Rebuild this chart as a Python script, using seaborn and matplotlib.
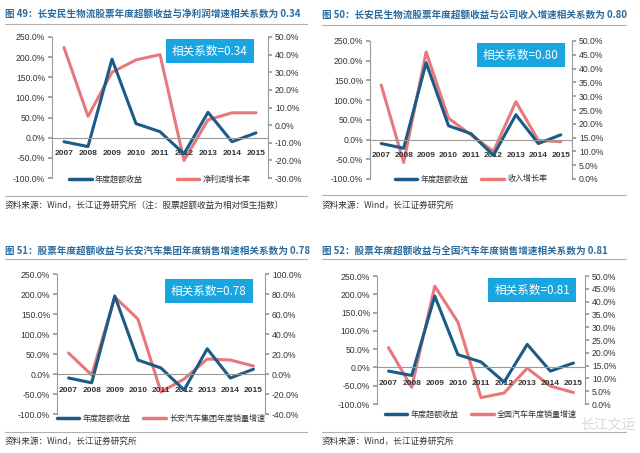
import numpy as np
import pandas as pd
import matplotlib
matplotlib.use("Agg")
import matplotlib.pyplot as plt
from matplotlib.lines import Line2D
import matplotlib.ticker as mticker
import seaborn as sns

sns.set_theme(style="white")
plt.rcParams['font.family'] = ['Liberation Sans', 'Noto Sans CJK SC', 'DejaVu Sans']
plt.rcParams['axes.unicode_minus'] = False

years = ["2007", "2008", "2009", "2010", "2011", "2012", "2013", "2014", "2015"]
excess_return = [-10, -22, 195, 35, 15, -40, 63, -10, 12]
profit_growth = [44, 5, 30, 37, 40, -20, 3, 7, 7]
revenue_growth = [34, 6, 46, 22, 16, 10, 28, 14, 13.5]
changan_sales_growth = [21, -1, 77, 55, -18, -5, 15, 14, 8]
national_sales_growth = [22, 6.5, 46, 32, 2.5, 4.3, 14, 7, 4.5]

titles = [
    "图 49：长安民生物流股票年度超额收益与净利润增速相关系数为 0.34",
    "图 50：长安民生物流股票年度超额收益与公司收入增速相关系数为 0.80",
    "图 51：股票年度超额收益与长安汽车集团年度销售增速相关系数为 0.78",
    "图 52：股票年度超额收益与全国汽车年度销售增速相关系数为 0.81",
]
corr_labels = ["相关系数=0.34", "相关系数=0.80", "相关系数=0.78", "相关系数=0.81"]
left_name = "年度超额收益"
right_names = ["净利润增长率", "收入增长率", "长安汽车集团年度销量增速", "全国汽车年度销量增速"]
right_series = [profit_growth, revenue_growth, changan_sales_growth, national_sales_growth]
right_limits = [(-30, 50, 10), (0, 50, 5), (-40, 100, 20), (0, 50, 5)]
sources = [
    "资料来源：Wind，长江证券研究所（注：股票超额收益为相对恒生指数）",
    "资料来源：Wind，长江证券研究所",
    "资料来源：Wind，长江证券研究所",
    "资料来源：Wind，长江证券研究所",
]

BLUE = "#1b5b87"
RED = "#e8787a"
BOXC = "#19a6e0"
TITLEC = "#2a6a9c"
GRAY = "#9a9a9a"
TXT = "#333333"

W, H = 640, 453
fig = plt.figure(figsize=(6.4, 4.53), dpi=100)
fig.patch.set_facecolor("white")

def fx(px):
    return px / W

def fy(py):
    return 1 - py / H

# pixel layout: (left, right, top, bottom) of plot area
areas = [(52, 268, 37, 178), (370, 572, 41, 179), (57, 265, 274, 414), (377, 585, 276, 404)]
title_pos = [(5, 14), (322, 15), (5, 251), (322, 251)]
title_line = [(5, 307, 24), (322, 626, 25), (5, 307, 259), (322, 626, 259)]
source_line = [(5, 307, 196), (322, 626, 195), (5, 307, 432), (322, 626, 432)]
source_pos = [(5, 205), (322, 205), (5, 441), (322, 441)]
box_pos = [(210, 51), (521, 55), (209, 291), (532, 290)]
legend_y = [179, 179, 418, 414]
legend_cs = [4.2, 1.6, 1.6, 1.6]

for i in range(4):
    l, r, t, b = areas[i]
    ax = fig.add_axes([fx(l), fy(b), fx(r - l), (b - t) / H])
    df = pd.DataFrame({"year": years, "excess": excess_return, "right": right_series[i]})
    sns.lineplot(data=df, x="year", y="excess", ax=ax, color=BLUE, linewidth=2.2, sort=False)
    ax.set_ylim(-100, 250)
    ax.set_yticks(np.arange(-100, 251, 50))
    ax.yaxis.set_major_formatter(mticker.FuncFormatter(lambda v, p: f"{v:.1f}%"))
    ax.set_xlim(-0.5, len(years) - 0.5)
    ax.set_xlabel("")
    ax.set_ylabel("")
    for s in ["top", "right"]:
        ax.spines[s].set_visible(False)
    ax.spines["left"].set_color(GRAY)
    ax.spines["left"].set_linewidth(0.8)
    ax.spines["bottom"].set_position(("data", 0))
    ax.spines["bottom"].set_color(GRAY)
    ax.spines["bottom"].set_linewidth(0.8)
    ax.tick_params(axis="y", which="both", left=True, length=3, color=GRAY, labelsize=6.2, labelcolor=TXT, pad=2)
    ax.tick_params(axis="x", bottom=False, labelsize=6, labelcolor=TXT, pad=3)
    for lab in ax.get_xticklabels():
        lab.set_fontweight("bold")
    ax.patch.set_alpha(0)

    ax2 = ax.twinx()
    sns.lineplot(data=df, x="year", y="right", ax=ax2, color=RED, linewidth=2.2, sort=False)
    lo, hi, st = right_limits[i]
    ax2.set_ylim(lo, hi)
    ax2.set_yticks(np.arange(lo, hi + 0.01, st))
    ax2.yaxis.set_major_formatter(mticker.FuncFormatter(lambda v, p: f"{v:.1f}%"))
    ax2.set_ylabel("")
    for s in ["top", "left", "bottom"]:
        ax2.spines[s].set_visible(False)
    ax2.spines["right"].set_color(GRAY)
    ax2.spines["right"].set_linewidth(0.8)
    ax2.tick_params(axis="y", right=True, length=3, color=GRAY, labelsize=6.2, labelcolor=TXT, pad=2)
    ax2.set_zorder(ax.get_zorder() - 1)
    ax.set_zorder(ax2.get_zorder() + 1)

    handles = [Line2D([0], [0], color=BLUE, lw=2.5), Line2D([0], [0], color=RED, lw=2.5)]
    leg = ax.legend(handles, [left_name, right_names[i]], ncol=2, frameon=False,
                    loc="center", bbox_to_anchor=(0.5, (b - legend_y[i]) / (b - t)),
                    fontsize=5.8, handlelength=2.8, columnspacing=legend_cs[i], handletextpad=0.4,
                    borderaxespad=0, borderpad=0)
    for txt in leg.get_texts():
        txt.set_color(TXT)
        txt.set_family(["Noto Sans CJK SC"])

    # titles, separators, sources, correlation box
    fig.text(fx(title_pos[i][0]), fy(title_pos[i][1]), titles[i], color=TITLEC, fontsize=6.9,
             fontweight="bold", va="center", ha="left", family=["Noto Sans CJK SC", "DejaVu Sans"])
    x0, x1, yy = title_line[i]
    fig.add_artist(Line2D([fx(x0), fx(x1)], [fy(yy), fy(yy)], color="#b0b0b0", lw=0.8))
    x0, x1, yy = source_line[i]
    fig.add_artist(Line2D([fx(x0), fx(x1)], [fy(yy), fy(yy)], color="#b0b0b0", lw=0.8))
    fig.text(fx(source_pos[i][0]), fy(source_pos[i][1]), sources[i], color=TXT, fontsize=6.2,
             va="center", ha="left", family=["Noto Sans CJK SC", "DejaVu Sans"])
    fig.text(fx(box_pos[i][0]), fy(box_pos[i][1]), corr_labels[i], color="white", fontsize=8.4,
             va="center", ha="center", family=["Noto Sans CJK SC", "DejaVu Sans"],
             bbox=dict(boxstyle="square,pad=0.5", facecolor=BOXC, edgecolor="none"))

# faint watermark
fig.text(fx(608), fy(425), "长江文运", color="#d0d0d0", fontsize=10, alpha=0.8,
         va="center", ha="center", family=["Noto Sans CJK SC"])

fig.savefig("out.png", dpi=100, facecolor="white")
